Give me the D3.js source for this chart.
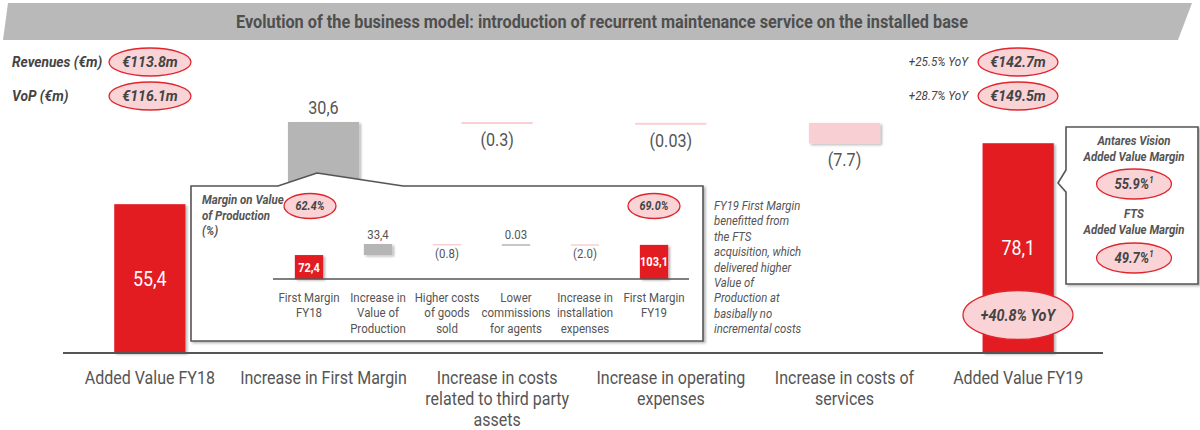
<!DOCTYPE html>
<html><head><meta charset="utf-8">
<script src="https://cdn.jsdelivr.net/npm/d3@7"></script>
<style>
html,body{margin:0;padding:0;background:#fff;}
svg{display:block;font-family:Roboto,'Noto Sans',sans-serif;}
</style></head>
<body>
<script>
// ---------- DATA ----------
const titleText = "Evolution of the business model: introduction of recurrent maintenance service on the installed base";
const mainCategories = ["Added Value FY18","Increase in First Margin","Increase in costs related to third party assets","Increase in operating expenses","Increase in costs of services","Added Value FY19"];
const mainLabelLines = [["Added Value FY18"],["Increase in First Margin"],["Increase in costs","related to third party","assets"],["Increase in operating","expenses"],["Increase in costs of","services"],["Added Value FY19"]];
const mainValues = [55.4, 30.6, -0.3, -0.03, -7.7, 78.1];
const mainTypes = ["total","delta","delta","delta","delta","total"];
const mainValueLabels = ["55,4","30,6","(0.3)","(0.03)","(7.7)","78,1"];

const subCategories = ["First Margin FY18","Increase in Value of Production","Higher costs of goods sold","Lower commissions for agents","Increase in installation expenses","First Margin FY19"];
const subLabelLines = [["First Margin","FY18"],["Increase in","Value of","Production"],["Higher costs","of goods","sold"],["Lower","commissions","for agents"],["Increase in","installation","expenses"],["First Margin","FY19"]];
const subValues = [72.4, 33.4, -0.8, 0.03, -2.0, 103.1];
const subTypes = ["total","delta","delta","delta","delta","total"];
const subValueLabels = ["72,4","33,4","(0.8)","0.03","(2.0)","103,1"];
const subMarginTitle = ["Margin on Value","of Production","(%)"];
const subMargins = ["62.4%","69.0%"];

const kpiNames = ["Revenues (€m)","VoP (€m)"];
const kpiFY18 = ["€113.8m","€116.1m"];
const kpiFY19 = ["€142.7m","€149.5m"];
const kpiGrowth = ["+25.5% YoY","+28.7% YoY"];
const avYoY = "+40.8% YoY";
const avMarginTitles = [["Antares Vision","Added Value Margin"],["FTS","Added Value Margin"]];
const avMarginValues = ["55.9%","49.7%"];
const noteLines = ["FY19 First Margin","benefitted from","the FTS","acquisition, which","delivered higher","Value of","Production at","basibally no","incremental costs"];

// ---------- STYLE ----------
const RED = "#e31b23", GREY = "#b5b5b5", PINK = "#f8d0d3", TXT = "#555", OVF = "#f9d3d6", OVS = "#e0262d";

const W = 1200, H = 430;
const svg = d3.select("body").append("svg").attr("width", W).attr("height", H);
const defs = svg.append("defs");
const f = defs.append("filter").attr("id","sh").attr("x","-20%").attr("y","-20%").attr("width","150%").attr("height","150%");
f.append("feDropShadow").attr("dx",2).attr("dy",1.5).attr("stdDeviation",1.3).attr("flood-color","#000").attr("flood-opacity",0.28);

function ctext(g, x, y, str, o = {}) {
  const t = g.append("text")
    .attr("transform", `translate(${x},${y}) scale(${o.sx || 1},1)`)
    .attr("text-anchor", o.anchor || "middle")
    .attr("font-size", o.size || 12)
    .attr("font-weight", o.weight || 400)
    .attr("font-style", o.italic ? "italic" : "normal")
    .attr("fill", o.fill || TXT)
    .text(str);
  return t;
}
function pill(g, cx, cy, rx, ry, str, size, sup, sx) {
  g.append("ellipse").attr("cx",cx).attr("cy",cy).attr("rx",rx).attr("ry",ry)
    .attr("fill",OVF).attr("stroke",OVS).attr("stroke-width",1.3);
  const t = ctext(g, cx, cy + size*0.36, str, {size, weight:700, italic:true, fill:"#444", sx: sx || 0.9});
  if (sup) t.append("tspan").attr("font-size", size*0.6).attr("dy", -size*0.4).text(sup);
}

// ---------- TITLE ----------
svg.append("path").attr("d","M8,3 L1192,3 L1178,40 L3,40 Z").attr("fill","#b9b9b9");
svg.append("text").attr("x",602).attr("y",28).attr("text-anchor","middle")
  .attr("font-size",18).attr("font-weight",700).attr("fill","#4f4f4f")
  .attr("textLength",732).attr("lengthAdjust","spacingAndGlyphs").text(titleText);

// ---------- KPI rows ----------
const kpiY = [62, 96];
kpiNames.forEach((n,i) => {
  ctext(svg, 12, kpiY[i]+5, n, {anchor:"start", size:14, weight:700, italic:true, fill:"#444", sx:0.98});
  pill(svg, 150, kpiY[i], 41, 14, kpiFY18[i], 14.5, null, 0.98);
  ctext(svg, 968, kpiY[i]+4, kpiGrowth[i], {anchor:"end", size:12, italic:true, fill:"#444", sx:0.97});
  pill(svg, 1018, kpiY[i], 40, 14, kpiFY19[i], 14.5, null, 0.98);
});

// ---------- MAIN WATERFALL ----------
function waterfall(values, types) {
  let run = 0;
  return values.map((v,i) => {
    let y0, y1;
    if (types[i] === "total") { y0 = 0; y1 = v; run = v; }
    else { y0 = run; y1 = run + v; run = y1; }
    return {v, type: types[i], y0, y1, i};
  });
}
const mainData = waterfall(mainValues, mainTypes);
const x = d3.scaleBand().domain(mainCategories).range([63,1105]).paddingInner(0.59).paddingOuter(0.295);
const y = d3.scaleLinear().domain([0, 86]).range([353, 122]);
const colorOf = d => d.type === "total" ? RED : (d.v >= 0 ? GREY : PINK);

const gMain = svg.append("g");
gMain.selectAll("rect.bar").data(mainData).join("rect").attr("class","bar")
  .attr("x", d => x(mainCategories[d.i]))
  .attr("width", x.bandwidth())
  .attr("y", d => y(Math.max(d.y0,d.y1)))
  .attr("height", d => Math.max(2, Math.abs(y(d.y0) - y(d.y1))))
  .attr("fill", colorOf)
  .attr("filter", d => Math.abs(y(d.y0)-y(d.y1)) > 3 ? "url(#sh)" : null);

mainData.forEach(d => {
  const cx = x(mainCategories[d.i]) + x.bandwidth()/2;
  const top = y(Math.max(d.y0,d.y1)), bot = Math.max(top+2, y(Math.min(d.y0,d.y1)));
  if (d.type === "total") {
    ctext(gMain, cx, (top+bot)/2 + 7, mainValueLabels[d.i], {size:21, fill:"#fff", sx:0.85});
  } else if (d.v >= 0) {
    ctext(gMain, cx, top - 8, mainValueLabels[d.i], {size:19, fill:TXT, sx:0.85});
  } else {
    ctext(gMain, cx, bot + 22, mainValueLabels[d.i], {size:19, fill:TXT, sx:0.85});
  }
});

// baseline (axis)
const axisG = svg.append("g").attr("transform","translate(0,353)");
axisG.append("line").attr("x1",63).attr("x2",1103).attr("stroke","#555").attr("stroke-width",2);
mainLabelLines.forEach((lines,i) => {
  const cx = x(mainCategories[i]) + x.bandwidth()/2;
  lines.forEach((ln,j) => ctext(axisG, cx, 31 + j*21, ln, {size:18, fill:TXT, sx:0.89}));
});

// ---------- INSET BOX ----------
const gIn = svg.append("g");
gIn.append("path").attr("d","M191,186 L278,186 L317,173 L403,186 L703,186 L703,341 L191,341 Z")
  .attr("fill","#fff").attr("stroke","#555").attr("stroke-width",1.6).attr("filter","url(#sh)");

subMarginTitle.forEach((t,j) => ctext(gIn, 202, 204 + j*15.5, t, {anchor:"start", size:12.5, weight:700, italic:true, fill:TXT, sx:0.92}));

const subData = waterfall(subValues, subTypes);
const xs = d3.scaleBand().domain(subCategories).range([274.5,688.5]).paddingInner(0.59).paddingOuter(0.295);
const ys = d3.scaleLinear().domain([0, 105.8]).range([279, 244]);
gIn.selectAll("rect.sbar").data(subData).join("rect").attr("class","sbar")
  .attr("x", d => xs(subCategories[d.i]))
  .attr("width", xs.bandwidth())
  .attr("y", d => ys(Math.max(d.y0,d.y1)))
  .attr("height", d => Math.max(1.5, Math.abs(ys(d.y0)-ys(d.y1))))
  .attr("fill", colorOf)
  .attr("filter", d => Math.abs(ys(d.y0)-ys(d.y1)) > 3 ? "url(#sh)" : null);
subData.forEach(d => {
  const cx = xs(subCategories[d.i]) + xs.bandwidth()/2;
  const top = ys(Math.max(d.y0,d.y1)), bot = Math.max(top+1.5, ys(Math.min(d.y0,d.y1)));
  if (d.type === "total") ctext(gIn, cx, (top+bot)/2 + 4.5, subValueLabels[d.i], {size:13, weight:700, fill:"#fff", sx:0.85});
  else if (d.v >= 0) ctext(gIn, cx, top - 5.5, subValueLabels[d.i], {size:13, fill:TXT, sx:0.88});
  else ctext(gIn, cx, bot + 12, subValueLabels[d.i], {size:13, fill:TXT, sx:0.88});
});
const subAxis = gIn.append("g").attr("transform","translate(0,279)");
subAxis.append("line").attr("x1",273).attr("x2",689).attr("stroke","#555").attr("stroke-width",1.6);
subLabelLines.forEach((lines,i) => {
  const cx = xs(subCategories[i]) + xs.bandwidth()/2;
  lines.forEach((ln,j) => ctext(subAxis, cx, 23 + j*15.3, ln, {size:13.5, fill:TXT, sx:0.85}));
});
pill(gIn, 310, 206, 26, 12.5, subMargins[0], 12);
pill(gIn, 654, 206, 26, 12.5, subMargins[1], 12);

// note
noteLines.forEach((t,j) => ctext(svg, 714, 210 + j*15.4, t, {anchor:"start", size:13, italic:true, fill:TXT, sx:0.87}));

// ---------- RIGHT BOX ----------
const gR = svg.append("g");
gR.append("path").attr("d","M1066,127 L1198,127 L1198,284 L1066,284 L1066,192 L1058,183 L1066,170 Z")
  .attr("fill","#fff").attr("stroke","#555").attr("stroke-width",1.6).attr("filter","url(#sh)");
const rY = [[145,161,184],[218,234,258]];
avMarginTitles.forEach((lines,i) => {
  lines.forEach((t,j) => ctext(gR, 1134, rY[i][j], t, {size:13, weight:700, italic:true, fill:TXT, sx:0.88}));
  pill(gR, 1134, rY[i][2], 37.5, 15, avMarginValues[i], 14.5, "1");
});

// YoY pill on FY19 bar
pill(svg, 1018, 315, 55, 24.5, avYoY, 16);
</script>
</body></html>
